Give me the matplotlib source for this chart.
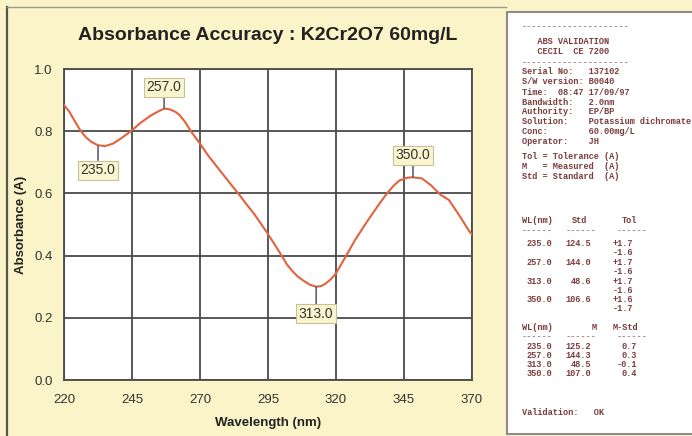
import matplotlib
matplotlib.use("Agg")
import matplotlib.pyplot as plt
from matplotlib.patches import Rectangle
from matplotlib.lines import Line2D

# ---------------- data ----------------
wavelength = [220, 222, 224, 225.9, 228, 230, 232.4, 235, 238, 241, 244.6, 248,
              252, 255.2, 257, 259, 261, 262.5, 264.5, 266.8, 269.9, 273, 277.2,
              281, 284.5, 287, 290, 294.8, 298, 300.3, 302, 304, 306, 308.6,
              310.5, 312.7, 314.5, 316, 318, 320, 323.7, 327, 331, 335, 338.3,
              341, 343.2, 346, 348, 351.6, 354.8, 358.5, 361.5, 365.2, 369.1, 370]
absorbance = [0.884, 0.862, 0.832, 0.804, 0.781, 0.766, 0.755, 0.752, 0.760, 0.777,
              0.800, 0.826, 0.851, 0.866, 0.873, 0.870, 0.862, 0.852, 0.830, 0.798,
              0.761, 0.722, 0.675, 0.633, 0.595, 0.566, 0.533, 0.472, 0.428, 0.396,
              0.371, 0.350, 0.332, 0.316, 0.306, 0.300, 0.302, 0.309, 0.323, 0.343,
              0.399, 0.450, 0.504, 0.555, 0.595, 0.623, 0.641, 0.650, 0.652, 0.648,
              0.627, 0.595, 0.579, 0.531, 0.477, 0.468]

peak_labels = ["235.0", "257.0", "313.0", "350.0"]
peak_wl = [232.5, 256.8, 312.7, 348.3]
peak_abs = [0.752, 0.873, 0.300, 0.652]
peak_offset_px = [-24, 21, -27, 22]   # box centre offset from curve (pixels, + = up)

x_ticks = [220, 245, 270, 295, 320, 345, 370]
y_ticks = [0.0, 0.2, 0.4, 0.6, 0.8, 1.0]
y_tick_labels = ["0.0", "0.2", "0.4", "0.6", "0.8", "1.0"]

title = "Absorbance Accuracy : K2Cr2O7 60mg/L"
x_label = "Wavelength (nm)"
y_label = "Absorbance (A)"

report_header = [
    "---------------------",
    "   ABS VALIDATION",
    "   CECIL  CE 7200",
    "---------------------",
    "Serial No:   137102",
    "S/W version: B0040",
    "Time:  08:47 17/09/97",
    "Bandwidth:   2.0nm",
    "Authority:   EP/BP",
    "Solution:    Potassium dichromate",
    "Conc:        60.00mg/L",
    "Operator:    JH",
    "Tol = Tolerance (A)",
    "M   = Measured  (A)",
    "Std = Standard  (A)",
]
report_header_y = [27, 42, 52, 63, 72, 82, 92, 102, 111.5, 121, 131, 141, 156, 166, 176]

table_wl = ["235.0", "257.0", "313.0", "350.0"]
table_std = ["124.5", "144.0", "48.6", "106.6"]
table_tol_plus = ["+1.7", "+1.7", "+1.7", "+1.6"]
table_tol_minus = ["-1.6", "-1.6", "-1.6", "-1.7"]
table_m = ["125.2", "144.3", "48.5", "107.0"]
table_diff = ["0.7", "0.3", "-0.1", "0.4"]
validation = "Validation:   OK"

# ---------------- figure ----------------
W, H = 692, 436
fig = plt.figure(figsize=(W / 100, H / 100), dpi=100)
cream = "#fbf4c8"
fig.patch.set_facecolor(cream)

def fx(px):
    return px / W

def fy(py):
    return 1 - py / H

# left panel border lines
fig.add_artist(Line2D([fx(7), fx(7)], [fy(7), fy(436)], color="#555555", lw=1.6))
fig.add_artist(Line2D([fx(7), fx(506)], [fy(7), fy(7)], color="#9a9a9a", lw=1.0))

ax = fig.add_axes([fx(64), fy(380), fx(472) - fx(64), fy(69) - fy(380)])
ax.set_facecolor("white")
ax.plot(wavelength, absorbance, color="#e2633c", lw=1.5, zorder=3)
ax.set_xlim(220, 370)
ax.set_ylim(0, 1.0)
ax.set_xticks(x_ticks)
ax.set_yticks(y_ticks)
ax.set_yticklabels(y_tick_labels)
ax.grid(True, color="#4a4a4a", lw=1.3)
ax.set_axisbelow(True)
for s in ax.spines.values():
    s.set_color("#4a4a4a")
    s.set_linewidth(1.3)
ax.tick_params(length=0, labelsize=9.5, labelcolor="#333333")
ax.tick_params(axis="x", pad=10)
ax.tick_params(axis="y", pad=8)
for lab in ax.get_xticklabels() + ax.get_yticklabels():
    lab.set_fontfamily("Liberation Sans")
ax.set_xlabel(x_label, fontsize=9.5, fontweight="bold", family="Liberation Sans",
              color="#222222", labelpad=8)
ax.set_ylabel(y_label, fontsize=9.5, fontweight="bold", family="Liberation Sans",
              color="#222222", labelpad=5)
ax.set_title(title, fontsize=14, fontweight="bold", family="Liberation Sans",
             color="#222222", pad=21)

for lab, wl, a, off in zip(peak_labels, peak_wl, peak_abs, peak_offset_px):
    ax.annotate(lab, xy=(wl, a), xytext=(0, off), textcoords="offset pixels",
                ha="center", va="center", fontsize=10, family="Liberation Sans",
                color="#333333", zorder=5,
                bbox=dict(boxstyle="square,pad=0.18", fc="#faf5cf", ec="#c8c098", lw=0.8),
                arrowprops=dict(arrowstyle="-", color="#5a6478", lw=1.2,
                                shrinkA=0, shrinkB=0))

# right report panel
fig.add_artist(Rectangle((fx(507), fy(434)), fx(200), fy(12) - fy(434),
                         transform=fig.transFigure, fc="white", ec="#8c8c8c", lw=1.5))

txt_kw = dict(family="Liberation Mono", fontweight="bold", fontsize=6.2,
              color="#7d3c3c", va="center")
dash_kw = dict(txt_kw, color="#b07a7a")
left = 522
for line, y in zip(report_header, report_header_y):
    kw = dash_kw if line.startswith("---") else txt_kw
    fig.text(fx(left), fy(y), line, ha="left", **kw)

# table 1
fig.text(fx(left), fy(220), "WL(nm)", ha="left", **txt_kw)
fig.text(fx(572), fy(220), "Std", ha="left", **txt_kw)
fig.text(fx(622), fy(220), "Tol", ha="left", **txt_kw)
for x0 in (522, 566, 617):
    fig.text(fx(x0), fy(231), "------", ha="left", **dash_kw)
row_y1 = [243, 262.5, 281.5, 299]
for wl, sd, tp, tm, y in zip(table_wl, table_std, table_tol_plus, table_tol_minus, row_y1):
    fig.text(fx(552), fy(y), wl, ha="right", **txt_kw)
    fig.text(fx(591), fy(y), sd, ha="right", **txt_kw)
    fig.text(fx(613), fy(y), tp, ha="left", **txt_kw)
    fig.text(fx(613), fy(y + 9.3), tm, ha="left", **txt_kw)

# table 2
fig.text(fx(left), fy(327), "WL(nm)", ha="left", **txt_kw)
fig.text(fx(592), fy(327), "M", ha="left", **txt_kw)
fig.text(fx(613), fy(327), "M-Std", ha="left", **txt_kw)
for x0 in (522, 566, 617):
    fig.text(fx(x0), fy(337), "------", ha="left", **dash_kw)
row_y2 = [346.5, 355.5, 364.5, 373.5]
for wl, m, d, y in zip(table_wl, table_m, table_diff, row_y2):
    fig.text(fx(552), fy(y), wl, ha="right", **txt_kw)
    fig.text(fx(591), fy(y), m, ha="right", **txt_kw)
    fig.text(fx(637), fy(y), d, ha="right", **txt_kw)

fig.text(fx(left), fy(412), validation, ha="left", **txt_kw)

fig.savefig("out.png", dpi=100, facecolor=fig.get_facecolor())
